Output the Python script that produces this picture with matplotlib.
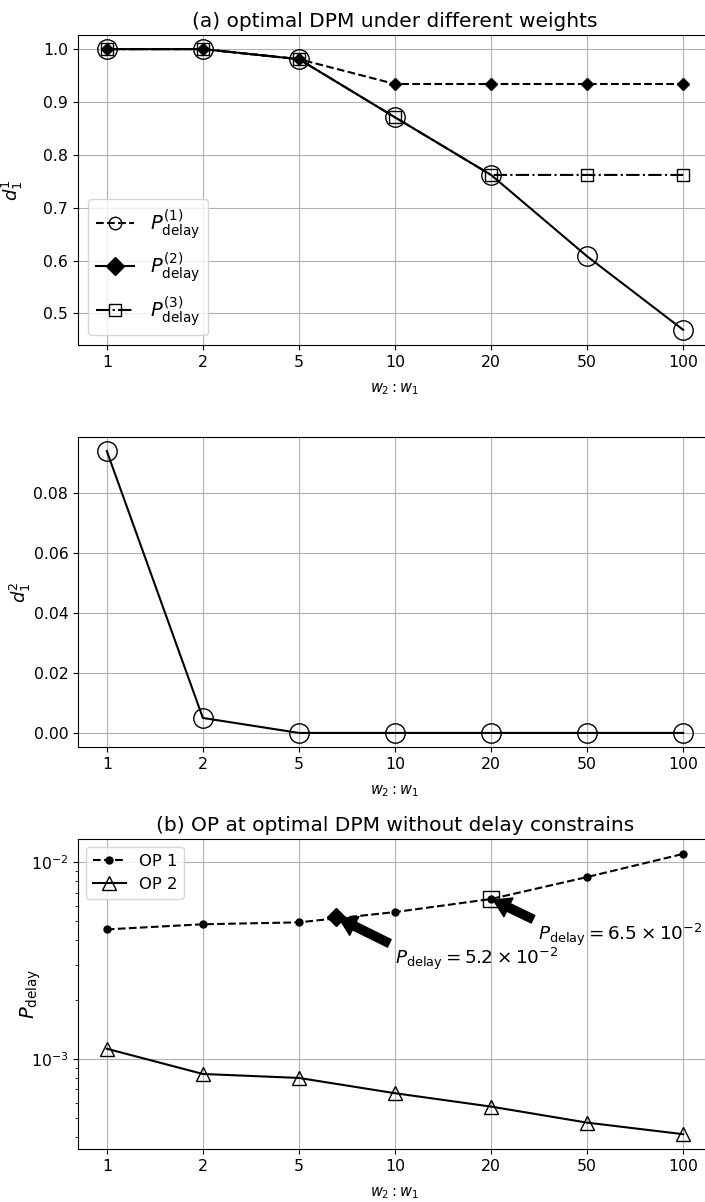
import matplotlib
matplotlib.use("Agg")
import matplotlib.pyplot as plt
from matplotlib.lines import Line2D
import numpy as np

# ---------------- data ----------------
ratio_labels = ["1", "2", "5", "10", "20", "50", "100"]

d11_p1 = [1.0, 1.0, 0.981, 0.871, 0.762, 0.608, 0.469]
d11_p2 = [1.0, 1.0, 0.981, 0.934, 0.934, 0.934, 0.934]
d11_p3 = [1.0, 1.0, 0.981, 0.871, 0.762, 0.762, 0.762]

d12_p1 = [0.0941, 0.0050, 0.0, 0.0, 0.0, 0.0, 0.0]

op1 = [4.55e-3, 4.83e-3, 4.94e-3, 5.57e-3, 6.49e-3, 8.39e-3, 1.10e-2]
op2 = [1.127e-3, 8.39e-4, 8.01e-4, 6.70e-4, 5.73e-4, 4.75e-4, 4.15e-4]

# highlighted points on OP 1 (categorical position, value)
mark_diamond = (2.39, 5.25e-3)
mark_square = (4.0, 6.49e-3)
note_diamond_text = (3.0, 3.02e-3)
note_square_text = (4.49, 4.02e-3)
note_diamond_label = r"$P_{\rm delay} = 5.2 \times 10^{-2}$"
note_square_label = r"$P_{\rm delay} = 6.5 \times 10^{-2}$"

# ---------------- figure ----------------
plt.rcParams["font.size"] = 11.3
plt.rcParams["font.family"] = ["DejaVu Sans"]

W, H = 705, 1202
fig = plt.figure(figsize=(W / 100, H / 100), dpi=100)

def axes_px(left, right, top, bottom):
    return fig.add_axes([left / W, 1 - bottom / H, (right - left) / W, (bottom - top) / H])

ax1 = axes_px(78, 712, 35, 345)
ax2 = axes_px(78, 712, 437, 747)
ax3 = axes_px(78, 712, 839, 1149)

x = np.arange(len(ratio_labels))

# ---- (a) top ----
ax1.plot(x, d11_p1, "-", color="k", lw=1.5, marker="o", ms=14, mfc="none", mec="k", mew=1.0, zorder=3)
ax1.plot(x, d11_p2, "--", color="k", lw=1.5, marker="D", ms=6, mfc="k", mec="k", zorder=4)
ax1.plot(x, d11_p3, "-.", color="k", lw=1.5, marker="s", ms=8.5, mfc="none", mec="k", mew=1.0, zorder=3)
ax1.set_xticks(x)
ax1.set_xticklabels(ratio_labels)
ax1.set_xlim(-0.3, 6.3)
ax1.set_ylim(0.4403, 1.0267)
ax1.grid(True)
ax1.set_axisbelow(True)
ax1.set_ylabel(r"$d_1^1$", fontsize=13)
ax1.yaxis.set_label_coords(-0.0836, 0.5)
ax1.set_xlabel(r"$w_2 : w_1$", fontsize=10.5, labelpad=8)
ax1.set_title("(a) optimal DPM under different weights", fontsize=14.5)
handles1 = [
    Line2D([], [], color="k", ls="--", lw=1.5, marker="o", ms=9, mfc="none", mec="k"),
    Line2D([], [], color="k", ls="-", lw=1.5, marker="D", ms=9, mfc="k", mec="k"),
    Line2D([], [], color="k", ls="-.", lw=1.5, marker="s", ms=9, mfc="none", mec="k"),
]
ax1.legend(handles1, [r"$P^{(1)}_{\rm delay}$", r"$P^{(2)}_{\rm delay}$", r"$P^{(3)}_{\rm delay}$"],
           loc="lower left", fontsize=14)

# ---- (a) bottom ----
ax2.plot(x, d12_p1, "-", color="k", lw=1.5, marker="o", ms=14, mfc="none", mec="k", mew=1.0)
ax2.set_xticks(x)
ax2.set_xticklabels(ratio_labels)
ax2.set_xlim(-0.3, 6.3)
ax2.set_ylim(-0.0047, 0.0988)
ax2.set_yticks([0.0, 0.02, 0.04, 0.06, 0.08])
ax2.grid(True)
ax2.set_axisbelow(True)
ax2.set_ylabel(r"$d_1^2$", fontsize=13)
ax2.yaxis.set_label_coords(-0.071, 0.5)
ax2.set_xlabel(r"$w_2 : w_1$", fontsize=10.5, labelpad=8)

# ---- (b) ----
ax3.plot(x, op1, "--", color="k", lw=1.5, marker="o", ms=5, mfc="k", mec="k", label="OP 1")
ax3.plot(x, op2, "-", color="k", lw=1.5, marker="^", ms=10, mfc="none", mec="k", mew=1.0, label="OP 2")
ax3.set_yscale("log")
ax3.plot([mark_diamond[0]], [mark_diamond[1]], marker="D", ms=9, color="k", ls="none", zorder=5)
ax3.plot([mark_square[0]], [mark_square[1]], marker="s", ms=12, mfc="none", mec="k", mew=1.0, ls="none", zorder=5)
arrow_kw = dict(facecolor="black", edgecolor="black", shrink=0.05, width=6, headwidth=15, headlength=12)
ax3.annotate(note_diamond_label, xy=mark_diamond, xytext=note_diamond_text, fontsize=13.2,
             arrowprops=arrow_kw)
ax3.annotate(note_square_label, xy=mark_square, xytext=note_square_text, fontsize=13.2,
             arrowprops=arrow_kw)
ax3.set_xticks(x)
ax3.set_xticklabels(ratio_labels)
ax3.set_xlim(-0.3, 6.3)
ax3.set_ylim(3.49e-4, 1.309e-2)
ax3.grid(True)
ax3.set_axisbelow(True)
ax3.set_ylabel(r"$P_{\rm delay}$", fontsize=14)
ax3.yaxis.set_label_coords(-0.055, 0.5)
ax3.set_xlabel(r"$w_2 : w_1$", fontsize=10.5, labelpad=8)
ax3.set_title("(b) OP at optimal DPM without delay constrains", fontsize=14.5)
ax3.legend(loc="upper left", fontsize=11.8)

fig.savefig("out.png", dpi=100)
